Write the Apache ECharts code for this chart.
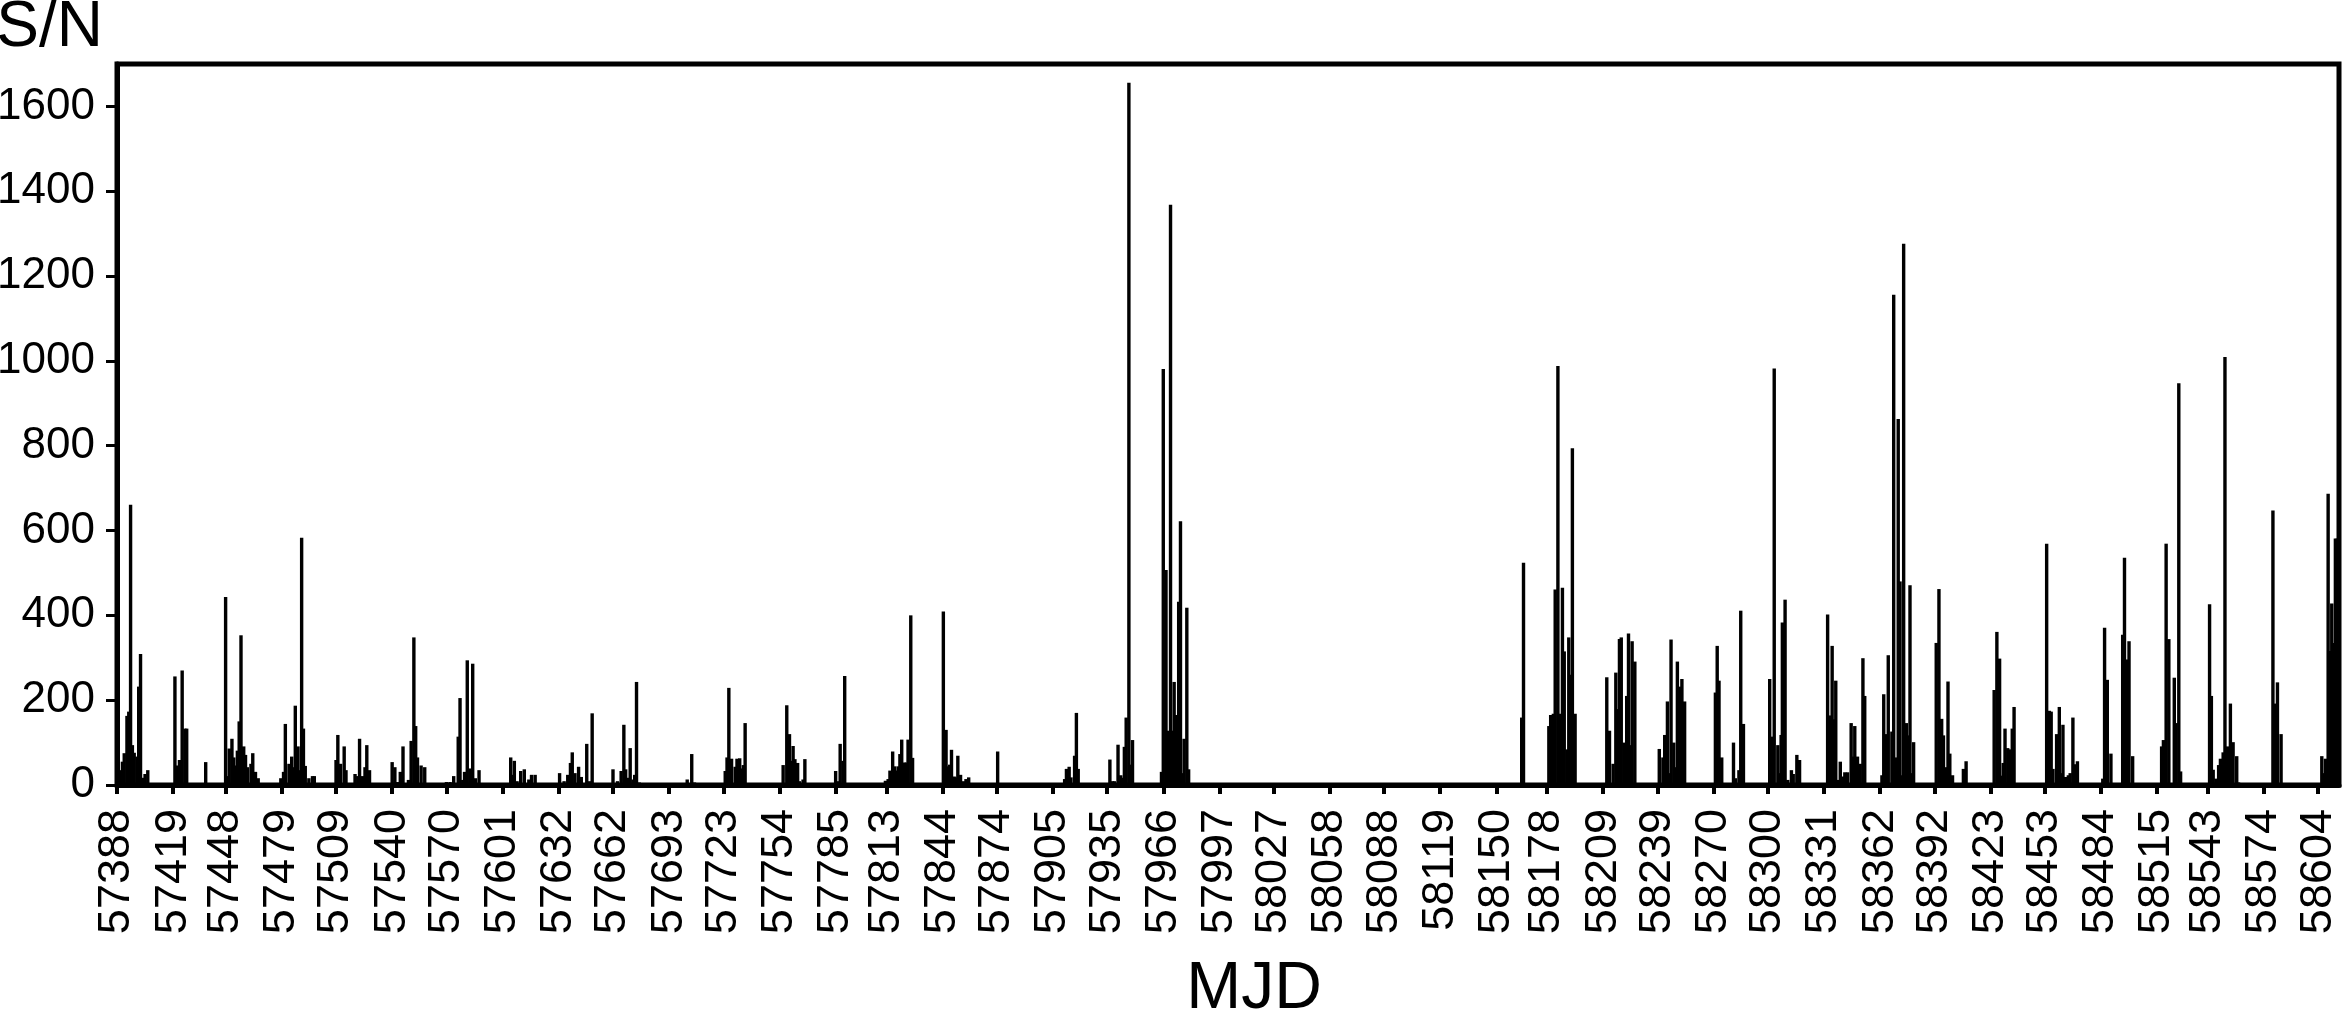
<!DOCTYPE html>
<html>
<head>
<meta charset="utf-8">
<script src="https://cdn.jsdelivr.net/npm/echarts@6/dist/echarts.min.js"></script>
<style>
  html, body { margin: 0; padding: 0; background: #fff; }
  #main { width: 2343px; height: 1014px; }
</style>
</head>
<body>
<div id="main"></div>
<script>
// MJD of each burst (one line per observing cluster)
var mjd = [
  57389.5, 57391, 57392, 57393.5, 57394.5, 57395.5, 57396.5, 57397.5, 57399, 57400, 57401, 57402.5, 57403.5, 57405,
  57420, 57421, 57422.5, 57424, 57425.5, 57426.5, 57437,
  57448, 57449, 57450, 57451.5, 57452.5, 57453.5, 57454.5, 57455.5, 57456.5, 57458, 57459, 57460, 57462, 57463, 57464.5, 57466,
  57478.5, 57480, 57481, 57483, 57484.5, 57485.5, 57486.5, 57488, 57489, 57490, 57491, 57492, 57494, 57496, 57497,
  57509, 57510, 57511.5, 57513.5, 57514.5, 57519.5, 57521, 57522, 57523.5, 57525, 57526, 57527.5,
  57540, 57541.5, 57543, 57544.5, 57546, 57549, 57550.5, 57552, 57553, 57554, 57556, 57558,
  57570, 57572, 57574, 57576.5, 57577.5, 57579, 57580, 57581.5, 57583, 57584.5, 57586, 57588,
  57605.5, 57606.5, 57607.5, 57609, 57611, 57613, 57615.5, 57617, 57619,
  57632.5, 57635, 57637, 57638.5, 57639.5, 57641, 57643, 57644.5, 57647.5, 57649, 57650.5,
  57662, 57664.5, 57666.5, 57668, 57669, 57670, 57671.5, 57673, 57674, 57675, 57676.5,
  57703, 57705.5, 57707,
  57724, 57725, 57726, 57727.5, 57729.5, 57730.5, 57732, 57733, 57734, 57735,
  57756, 57758, 57759.5, 57760.5, 57761.5, 57762.5, 57764, 57765, 57767, 57768,
  57785, 57786.5, 57787.5, 57789, 57790,
  57812.5, 57814, 57815, 57816.5, 57817.5, 57818.5, 57819.5, 57820.5, 57821.5, 57823, 57824, 57825, 57826.5, 57827.5,
  57844.5, 57846, 57847, 57848, 57849, 57850.5, 57851.5, 57852.5, 57854, 57855.5, 57857, 57858.5,
  57874.5,
  57911.5, 57912.5, 57914, 57915, 57917, 57918, 57919,
  57936.5, 57938, 57939, 57941, 57942.5, 57943.5, 57944.5, 57945.5, 57947, 57948, 57949,
  57965, 57966, 57967.5, 57968.5, 57970, 57971, 57972, 57973, 57974.5, 57975.5, 57976.5, 57977.5, 57979, 57980,
  58164, 58165,
  58179, 58180, 58181.5, 58182.5, 58184, 58185, 58186.5, 58187.5, 58189, 58190, 58191, 58192, 58193.5,
  58211, 58212.5, 58214.5, 58216, 58217, 58218, 58219, 58220.5, 58222, 58223, 58224, 58225, 58226.5,
  58240, 58242, 58243, 58244.5, 58245.5, 58246.5, 58248, 58249, 58250, 58251.5, 58252.5, 58254,
  58271, 58272, 58273, 58274.5, 58281, 58282, 58284, 58285, 58286.5,
  58301, 58302, 58303.5, 58305.5, 58306.5, 58307.3, 58308, 58309.5, 58311, 58313, 58314, 58316, 58317.5,
  58333, 58334, 58335.5, 58336.5, 58337.5, 58339, 58340, 58341.5, 58342.5, 58344, 58346, 58347, 58348, 58349.5, 58351, 58352.5, 58353.5,
  58363, 58364, 58365.5, 58366.5, 58368.5, 58369.5, 58371, 58372, 58373, 58374, 58375, 58376.5, 58377.5, 58378.5, 58379.5, 58380.5,
  58393, 58394.5, 58396, 58397, 58398.5, 58399.5, 58400.5, 58402, 58408, 58409.5,
  58425, 58426.5, 58428, 58429, 58430, 58431, 58432.5, 58434, 58435, 58436,
  58454, 58455.5, 58456.5, 58457.5, 58459.5, 58461, 58462, 58463, 58464.5, 58466, 58467, 58468.5, 58469.5, 58471,
  58485, 58486, 58487.5, 58489.5, 58496, 58497, 58498.5, 58499.5, 58501.5,
  58517.5, 58518.5, 58520, 58521.5, 58524.5, 58525.5, 58527, 58528,
  58544, 58545, 58546, 58547.5, 58549, 58550, 58551.5, 58552.5, 58554, 58555.5, 58557, 58559, 58560,
  58579, 58580.5, 58581.5, 58583.5,
  58606, 58607, 58608, 58609.5, 58610.5, 58611.5, 58612.5, 58613.5, 58614.5
];

// S/N of each burst, same order as mjd
var sn = [
  35, 55, 75, 163, 173, 661, 94, 76, 67, 232, 309, 17, 26, 35,
  256, 46, 59, 270, 133, 133, 54,
  443, 21, 86, 109, 65, 46, 81, 150, 353, 91, 71, 42, 50, 75, 31, 16,
  16, 31, 144, 50, 67, 42, 187, 91, 35, 583, 133, 45, 16, 21, 21,
  59, 118, 50, 91, 35, 26, 21, 109, 21, 42, 94, 35,
  54, 42, 7, 31, 91, 12, 104, 348, 139, 65, 46, 42,
  7, 7, 21, 114, 205, 12, 31, 294, 39, 286, 16, 35,
  65, 24, 57, 9, 33, 37, 13, 24, 24,
  28, 9, 24, 52, 77, 28, 43, 19, 97, 9, 169,
  37, 9, 33, 142, 37, 17, 87, 13, 24, 243, 6,
  13, 73, 6,
  33, 65, 229, 62, 43, 62, 63, 39, 47, 146,
  47, 188, 120, 57, 92, 61, 52, 9, 13, 61,
  33, 9, 97, 57, 257,
  10, 14, 34, 79, 44, 34, 44, 73, 107, 53, 53, 107, 400, 64,
  409, 130, 44, 48, 83, 20, 18, 69, 24, 9, 14, 18,
  79,
  14, 38, 43, 18, 69, 170, 38,
  60, 9, 9, 95, 23, 17, 90, 159, 1656, 48, 106,
  31, 981, 507, 128, 1368, 128, 243, 165, 432, 622, 28, 109, 418, 37,
  159, 524,
  139, 165, 168, 461, 988, 168, 465, 315, 84, 348, 260, 794, 168,
  254, 128, 50, 265, 179, 344, 348, 100, 210, 357, 94, 339, 291,
  85, 65, 118, 197, 28, 343, 100, 42, 291, 232, 250, 197,
  218, 328, 246, 65, 100, 16, 35, 411, 144,
  250, 114, 982, 94, 28, 118, 383, 437, 12, 35, 26, 71, 59,
  402, 164, 328, 155, 246, 12, 55, 20, 30, 30, 146, 67, 139, 67, 50, 299, 210,
  23, 214, 120, 306, 126, 1156, 65, 863, 480, 23, 1276, 146, 117, 471, 28, 101,
  335, 462, 156, 117, 42, 244, 74, 23, 38, 56,
  224, 361, 298, 22, 52, 133, 87, 84, 133, 184,
  569, 175, 173, 38, 120, 184, 28, 142, 19, 23, 28, 159, 49, 56,
  15, 371, 248, 74, 354, 536, 296, 339, 68,
  91, 106, 569, 344, 253, 146, 947, 32,
  426, 210, 36, 15, 47, 62, 77, 1009, 91, 192, 101, 68, 6,
  647, 192, 242, 120,
  68, 28, 62, 687, 316, 428, 335, 581, 581
];

// tick labels on the MJD axis (first day of each month)
var mjdTicks = [
  57388, 57419, 57448, 57479, 57509, 57540, 57570, 57601, 57632, 57662, 57693,
  57723, 57754, 57785, 57813, 57844, 57874, 57905, 57935, 57966, 57997, 58027,
  58058, 58088, 58119, 58150, 58178, 58209, 58239, 58270, 58300, 58331, 58362,
  58392, 58423, 58453, 58484, 58515, 58543, 58574, 58604
];
var snTicks = [0, 200, 400, 600, 800, 1000, 1200, 1400, 1600];

var chart = echarts.init(document.getElementById('main'), null, { renderer: 'canvas' });

var font = 'Liberation Sans, Arial, sans-serif';
var plain = function (v) { return String(v); };   // no thousands separator

var option = {
  animation: false,
  backgroundColor: '#fff',
  grid: {
    left: 117,
    right: 4,
    top: 64,
    bottom: 229,
    show: true,
    borderColor: '#000',
    borderWidth: 5,
    outerBoundsMode: 'none'
  },
  xAxis: {
    type: 'value',
    min: 57388,
    max: 58615.5,
    name: 'MJD',
    nameLocation: 'middle',
    nameGap: 172,
    nameTextStyle: { fontFamily: font, fontSize: 66, color: '#000', padding: [0, 0, 0, 52] },
    axisLine: { show: true, onZero: false, lineStyle: { color: '#000', width: 5 } },
    axisTick: { show: true, inside: false, length: 9, customValues: mjdTicks, lineStyle: { color: '#000', width: 4 } },
    axisLabel: {
      customValues: mjdTicks,
      formatter: plain,
      rotate: 90,
      margin: 24,
      fontFamily: font,
      fontSize: 45,
      color: '#000'
    },
    splitLine: { show: false }
  },
  yAxis: {
    type: 'value',
    min: 0,
    max: 1700,
    name: 'S/N',
    nameLocation: 'end',
    nameGap: 4,
    nameTextStyle: { fontFamily: font, fontSize: 64, color: '#000', align: 'right', padding: [0, 14, 0, 0] },
    axisLine: { show: true, lineStyle: { color: '#000', width: 5 } },
    axisTick: { show: true, inside: false, length: 11, customValues: snTicks, lineStyle: { color: '#000', width: 3 } },
    axisLabel: {
      customValues: snTicks,
      formatter: plain,
      margin: 22,
      fontFamily: font,
      fontSize: 44,
      color: '#000'
    },
    splitLine: { show: false }
  },
  series: [
    {
      type: 'bar',
      barWidth: 3.4,
      itemStyle: { color: '#000' },
      data: mjd.map(function (d, i) { return [d, sn[i]]; })
    }
  ]
};

chart.setOption(option);
</script>
</body>
</html>
